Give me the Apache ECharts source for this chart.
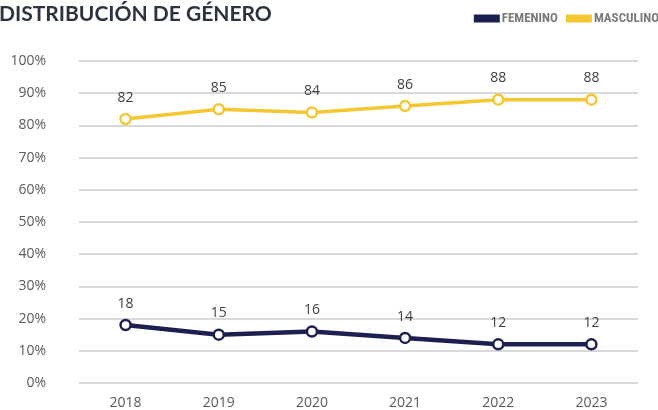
<!DOCTYPE html>
<html>
<head>
<meta charset="utf-8">
<script src="https://cdn.jsdelivr.net/npm/echarts@6/dist/echarts.min.js"></script>
<style>
  html, body { margin: 0; padding: 0; background: #fff; }
  #chart { width: 658px; height: 410px; }
</style>
</head>
<body>
<div id="chart"></div>
<script>
// Chart data
const years = ["2018", "2019", "2020", "2021", "2022", "2023"];
const femenino = [18, 15, 16, 14, 12, 12];
const masculino = [82, 85, 84, 86, 88, 88];

const navy = "#1c2050";
const yellow = "#f3c632";

const chart = echarts.init(document.getElementById("chart"));

function lineSeries(name, data, color, width) {
  return {
    name: name,
    type: "line",
    data: data,
    symbol: "circle",
    symbolSize: 10,
    lineStyle: { color: color, width: width },
    itemStyle: { color: "#fff", borderColor: color, borderWidth: 2.5 },
    label: {
      show: true,
      position: "top",
      distance: 8,
      color: "#404040",
      fontSize: 14,
      fontFamily: "Open Sans",
    },
    emphasis: { disabled: true },
    z: 3,
  };
}

const option = {
  backgroundColor: "#fff",
  animation: false,
  title: {
    text: "DISTRIBUCIÓN DE GÉNERO",
    left: -6,
    top: -1,
    textStyle: {
      fontFamily: "Lato",
      fontWeight: "bold",
      fontSize: 21,
      color: "#2d3340",
    },
  },
  legend: {
    right: -6,
    top: 7,
    itemWidth: 26,
    itemHeight: 8,
    itemGap: 8,
    icon: "rect",
    textStyle: {
      fontFamily: "Roboto Condensed, Liberation Sans Narrow, Roboto",
      fontWeight: "bold",
      fontSize: 13,
      color: "#7a7a7a",
      padding: [0, 0, 0, -3],
    },
    data: [
      { name: "FEMENINO", itemStyle: { color: navy, borderWidth: 0 } },
      { name: "MASCULINO", itemStyle: { color: yellow, borderWidth: 0 } },
    ],
  },
  grid: {
    left: 79,
    right: 20,
    top: 61,
    bottom: 26,
  },
  xAxis: {
    type: "category",
    data: years,
    boundaryGap: true,
    axisLine: { show: false },
    axisTick: { show: false },
    axisLabel: {
      color: "#595959",
      fontSize: 14,
      fontFamily: "Open Sans",
      margin: 13,
    },
  },
  yAxis: {
    type: "value",
    min: 0,
    max: 100,
    interval: 10,
    axisLine: { show: false },
    axisTick: { show: false },
    axisLabel: {
      formatter: "{value}%",
      color: "#595959",
      fontSize: 14,
      fontFamily: "Open Sans",
      margin: 33,
    },
    splitLine: { lineStyle: { color: "#d9d9d9", width: 2 } },
  },
  series: [
    lineSeries("FEMENINO", femenino, navy, 4.5),
    lineSeries("MASCULINO", masculino, yellow, 3.5),
  ],
};

chart.setOption(option);
</script>
</body>
</html>
